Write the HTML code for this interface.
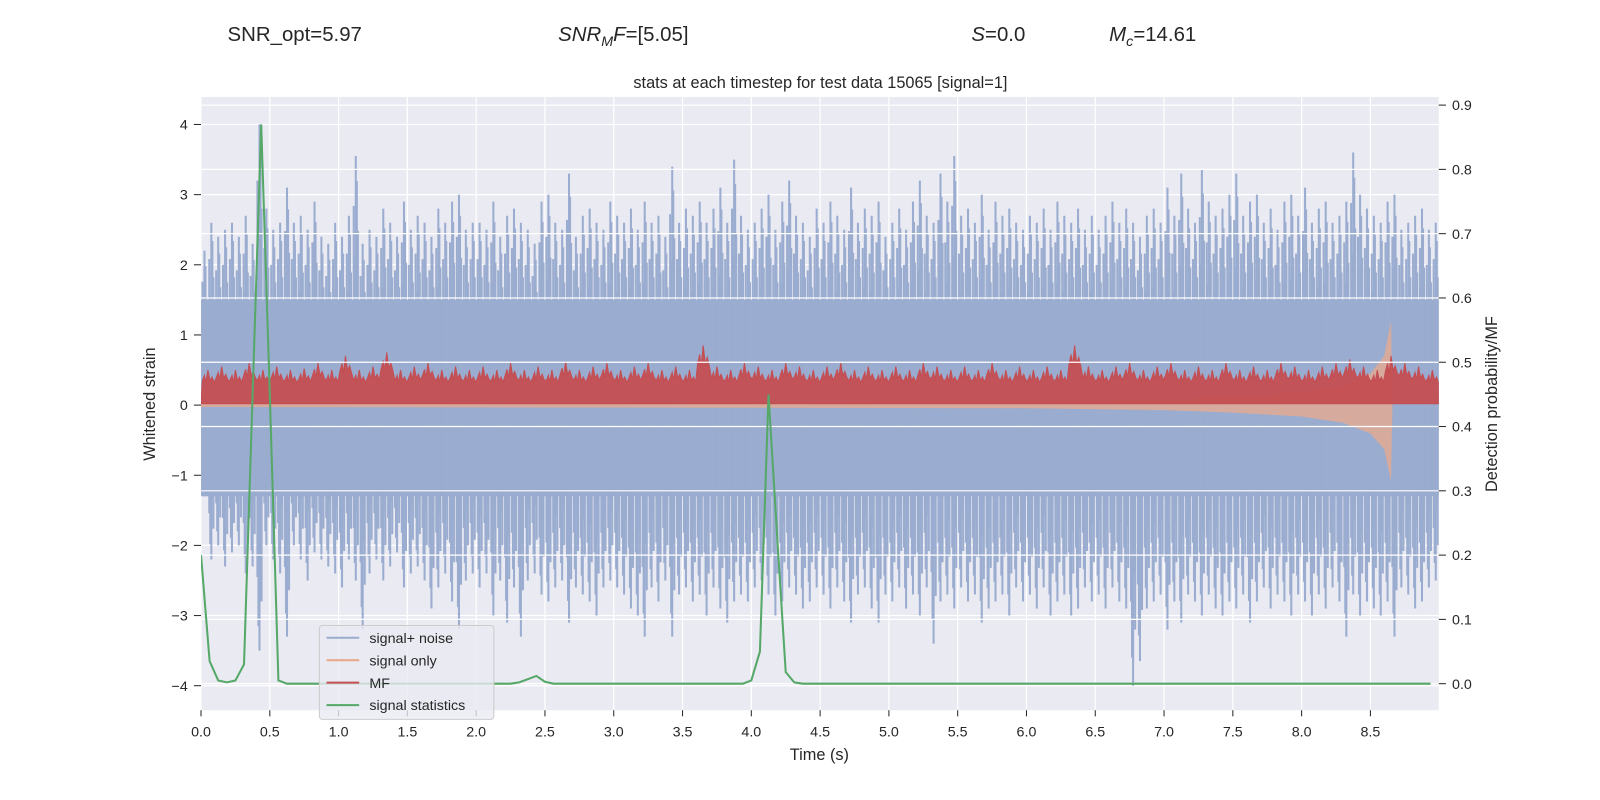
<!DOCTYPE html>
<html><head><meta charset="utf-8"><style>
html,body{margin:0;padding:0;background:#fff;overflow:hidden;width:1600px;height:800px;}
svg{display:block;}
svg text{font-family:"Liberation Sans","DejaVu Sans",sans-serif;fill:#262626;}
</style></head><body>
<svg id="chart" width="1600" height="800" viewBox="0 0 1568 784" xmlns="http://www.w3.org/2000/svg">
<text x="223" y="40" font-size="20">SNR_opt=5.97</text>
<text x="547" y="40" font-size="20"><tspan font-style="italic">SNR</tspan><tspan font-style="italic" font-size="14" dy="5">M</tspan><tspan font-style="italic" dy="-5">F</tspan>=[5.05]</text>
<text x="952" y="40" font-size="20"><tspan font-style="italic">S</tspan>=0.0</text>
<text x="1087" y="40" font-size="20"><tspan font-style="italic">M</tspan><tspan font-style="italic" font-size="14" dy="5">c</tspan><tspan dy="-5">=14.61</tspan></text>
<text x="804" y="86" font-size="16" text-anchor="middle">stats at each timestep for test data 15065 [signal=1]</text>
<rect x="197" y="95" width="1213" height="601" fill="#eaeaf2"/>
<g id="grid"></g>
<g id="marks"></g>
<g id="grid2"></g>
<g id="marks2"></g>
<g id="axes"></g>
<text x="803" y="745" font-size="16" text-anchor="middle">Time (s)</text>
<text transform="translate(152,396) rotate(-90)" font-size="16" text-anchor="middle">Whitened strain</text>
<text transform="translate(1467,396) rotate(-90)" font-size="16" text-anchor="middle">Detection probability/MF</text>
<g>
<rect x="313" y="613" width="171" height="92" rx="3" fill="#eaeaf2" fill-opacity="0.8" stroke="#cccccc"/>
<line x1="320" y1="625" x2="352" y2="625" stroke="#9aaccf" stroke-width="2"/>
<text x="362" y="630" font-size="14">signal+ noise</text>
<line x1="320" y1="647" x2="352" y2="647" stroke="#e9a98c" stroke-width="2"/>
<text x="362" y="652" font-size="14">signal only</text>
<line x1="320" y1="669" x2="352" y2="669" stroke="#c44e52" stroke-width="2"/>
<text x="362" y="674" font-size="14">MF</text>
<line x1="320" y1="691" x2="352" y2="691" stroke="#55a868" stroke-width="2"/>
<text x="362" y="696" font-size="14">signal statistics</text>
</g>
</svg>
<script>
const xTicks=[0,0.5,1,1.5,2,2.5,3,3.5,4,4.5,5,5.5,6,6.5,7,7.5,8,8.5];
const yTicks=[-4,-3,-2,-1,0,1,2,3,4];
const y2Ticks=[0,0.1,0.2,0.3,0.4,0.5,0.6,0.7,0.8,0.9];
const noiseHi=[2.2,2.6,2.4,2.5,2.6,2.4,2.7,2.3,4.0,2.8, 2.5,2.6,3.1,2.6,2.7,2.5,2.9,2.4,2.3,2.6, 2.4,2.7,3.55,2.3,2.5,2.4,2.8,2.6,2.4,2.9, 2.5,2.7,2.6,2.4,2.8,2.6,2.9,3.0,2.5,2.6, 2.6,2.5,2.9,2.4,2.7,2.8,2.6,2.5,2.3,2.9, 3.0,2.6,2.5,3.3,2.4,2.7,2.8,2.6,2.5,2.9, 2.7,2.6,2.8,2.5,2.9,2.6,2.7,2.4,3.4,2.6, 2.8,2.7,2.9,2.6,2.8,3.1,2.6,3.5,2.7,2.5, 2.6,2.8,3.0,2.5,2.9,3.2,2.7,2.6,2.4,2.8, 2.6,2.9,2.7,2.5,3.1,2.6,2.8,2.7,2.9,2.4, 2.6,2.8,2.5,2.9,3.2,2.7,2.6,3.3,2.9,3.55, 2.7,2.8,2.6,3.0,2.5,2.9,2.7,2.8,2.6,2.5, 2.7,2.6,2.8,2.5,2.9,2.7,2.6,2.8,2.5,2.7, 2.5,2.7,2.9,2.6,2.8,2.6,2.4,2.7,2.8,2.6, 3.1,2.7,3.3,2.8,2.6,3.35,2.9,2.7,2.8,3.0, 3.3,2.7,2.9,3.0,2.6,2.8,2.5,2.9,3.0,2.7, 3.1,2.6,2.8,2.9,2.6,2.7,2.9,3.6,3.0,2.8, 2.7,2.6,2.9,3.0,2.5,2.6,2.7,2.8,2.5,2.6];
const noiseLo=[-1.3,-2.2,-2.0,-2.3,-2.1,-2.0,-2.4,-2.3,-3.5,-2.0, -2.2,-2.4,-3.3,-2.0,-2.2,-2.5,-2.1,-2.2,-2.3,-2.4, -2.6,-2.2,-2.5,-3.2,-2.4,-2.2,-2.5,-2.3,-2.1,-2.6, -2.4,-2.3,-2.5,-2.9,-2.6,-2.4,-2.8,-3.2,-2.5,-2.4, -2.6,-2.4,-3.0,-2.5,-3.1,-2.6,-3.3,-2.5,-2.4,-2.7, -2.8,-2.6,-2.5,-3.1,-2.6,-2.7,-2.8,-3.0,-2.6,-2.5, -2.6,-2.7,-2.9,-3.0,-3.3,-2.6,-2.8,-2.5,-3.3,-2.7, -2.6,-2.8,-2.7,-3.0,-2.6,-2.9,-3.1,-2.8,-2.7,-2.8, -2.6,-2.5,-2.7,-3.0,-2.8,-2.6,-2.7,-2.9,-2.8,-2.6, -2.7,-2.9,-2.6,-2.8,-3.1,-2.7,-2.6,-2.9,-3.1,-2.7, -2.8,-2.6,-2.9,-2.7,-3.0,-2.6,-3.4,-2.8,-2.7,-2.9, -2.6,-2.8,-2.7,-3.1,-2.9,-2.8,-2.7,-3.0,-2.6,-2.8, -2.7,-2.9,-2.6,-3.0,-2.8,-2.7,-3.0,-2.9,-2.6,-2.8, -2.7,-2.9,-2.6,-2.8,-2.9,-4.0,-3.65,-2.9,-2.8,-2.7, -3.2,-2.8,-3.1,-2.7,-2.8,-3.0,-2.7,-2.9,-3.0,-2.8, -2.9,-2.7,-3.1,-2.8,-2.6,-2.9,-2.7,-2.8,-3.0,-2.7, -2.8,-3.0,-2.7,-2.9,-2.6,-2.8,-3.3,-2.7,-3.0,-2.8, -2.9,-3.0,-2.8,-3.3,-2.6,-2.7,-2.9,-2.8,-2.6,-2.5];
const noiseCoreHi=1.5, noiseCoreLo=-1.3, noiseDt=0.05;
const mfHi=[0.5,0.55,0.5,0.6,0.5,0.55,0.5,0.52,0.6,0.5, 0.7,0.5,0.55,0.75,0.5,0.55,0.6,0.5,0.55,0.5, 0.55,0.5,0.6,0.5,0.55,0.5,0.62,0.5,0.55,0.6, 0.5,0.55,0.6,0.5,0.55,0.5,0.85,0.55,0.5,0.6, 0.55,0.5,0.6,0.55,0.5,0.55,0.6,0.5,0.55,0.5, 0.55,0.5,0.6,0.55,0.5,0.55,0.5,0.6,0.5,0.55, 0.5,0.55,0.5,0.85,0.55,0.5,0.55,0.6,0.5,0.55, 0.6,0.5,0.55,0.5,0.6,0.5,0.55,0.5,0.6,0.55, 0.5,0.55,0.6,0.65,0.55,0.5,0.7,0.6,0.55,0.5];
const mfLo=0.02, mfDt=0.1;
const sigT=[0,6,7,7.5,8,8.3,8.5,8.6,8.65,8.66];
const sigAmp=[0.03,0.05,0.08,0.12,0.18,0.28,0.45,0.7,1.2,0];
const statT=[0,0.0625,0.125,0.1875,0.25,0.3125,0.375,0.4375,0.5,0.5625,0.625,2.25,2.3125,2.375,2.4375,2.5,2.5625,3.9375,4.0,4.0625,4.125,4.1875,4.25,4.3125,4.375,8.9375];
const statP=[0.2,0.035,0.005,0.002,0.005,0.03,0.45,0.87,0.45,0.005,0,0,0.002,0.007,0.012,0.003,0,0,0.005,0.05,0.45,0.23,0.018,0.002,0,0];

const X=t=>197+t*(1343-197)/8.5;
const Y=v=>397-v*(397-122)/4;
const Y2=p=>670-p*(670-103)/0.9;
const NS='http://www.w3.org/2000/svg';
function mk(tag,attrs,parent){const e=document.createElementNS(NS,tag);for(const k in attrs)e.setAttribute(k,attrs[k]);parent.appendChild(e);return e;}
const grid=document.getElementById('grid'),grid2=document.getElementById('grid2'),marks=document.getElementById('marks'),marks2=document.getElementById('marks2'),axes=document.getElementById('axes');
const clip=mk('clipPath',{id:'pc'},document.getElementById('chart'));mk('rect',{x:197,y:95,width:1213,height:601},clip);
marks.setAttribute('clip-path','url(#pc)');
marks2.setAttribute('clip-path','url(#pc)');
xTicks.forEach(t=>{
 const l=mk('line',{x1:X(t),x2:X(t),y1:95,y2:696,stroke:'#fff','stroke-width':1.2},grid);
 
 
 const tk=mk('line',{x1:X(t),x2:X(t),y1:696,y2:702,stroke:'#262626','stroke-width':1},axes);
 
 
 const tx=mk('text',{x:X(t),y:722,'font-size':14,'text-anchor':'middle'},axes);tx.textContent=t.toFixed(1);
 
 
});
yTicks.forEach(v=>{
 const l=mk('line',{x1:197,x2:1410,y1:Y(v),y2:Y(v),stroke:'#fff','stroke-width':1.2},grid);
 
 
 const tk=mk('line',{x1:190,x2:197,y1:Y(v),y2:Y(v),stroke:'#262626'},axes);
 
 
 const tx=mk('text',{x:184,y:Y(v)+5,'font-size':14,'text-anchor':'end'},axes);tx.textContent=v<0?'\u2212'+(-v):String(v);
 
 
});
y2Ticks.forEach(p=>{
 const l=mk('line',{x1:197,x2:1410,y1:Y2(p),y2:Y2(p),stroke:'#fff','stroke-width':1.2},grid2);
 
 
 const tk=mk('line',{x1:1410,x2:1417,y1:Y2(p),y2:Y2(p),stroke:'#262626'},axes);
 
 
 const tx=mk('text',{x:1423,y:Y2(p)+5,'font-size':14},axes);tx.textContent=p.toFixed(1);
 
 
});
// noise
const tEnd=noiseHi.length*noiseDt;
const core=mk('rect',{x:X(0),y:Y(noiseCoreHi),width:X(tEnd)-X(0),height:Y(noiseCoreLo)-Y(noiseCoreHi),fill:'#9aaccf'},marks);


noiseHi.forEach((h,i)=>{
 const t=i*noiseDt, lo=noiseLo[i];
 const cx=X(t+noiseDt/2), w=X(noiseDt)-X(0);
 [[0,1],[-0.3,0.8],[0.3,0.7],[-0.15,0.6],[0.15,0.9]].forEach(([o,f])=>{
  const x=cx+o*w;
  const a=mk('line',{x1:x,x2:x,y1:Y(0),y2:Y(h*f),stroke:'#9aaccf','stroke-width':2},marks);
  
  
  const b=mk('line',{x1:x,x2:x,y1:Y(0),y2:Y(lo*(f===1?1:(1.5-f))),stroke:'#9aaccf','stroke-width':2},marks);
  
  
 });
});
// signal only
let up=[],dn=[];
for(let i=0;i<sigT.length;i++){up.push(X(sigT[i])+','+Y(sigAmp[i]));dn.unshift(X(sigT[i])+','+Y(-sigAmp[i]*0.9));}
const sg=mk('polygon',{points:up.concat(dn).join(' '),fill:'#e9a98c','fill-opacity':0.75},marks);


// MF
let mp=[X(0)+','+Y(mfLo)];
mfHi.forEach((h,i)=>{const t=i*mfDt;
 mp.push(X(t+mfDt*0.1)+','+Y(h*0.7));mp.push(X(t+mfDt*0.25)+','+Y(h*0.85));mp.push(X(t+mfDt*0.35)+','+Y(h*0.65));
 mp.push(X(t+mfDt*0.5)+','+Y(h));mp.push(X(t+mfDt*0.65)+','+Y(h*0.7));mp.push(X(t+mfDt*0.8)+','+Y(h*0.8));mp.push(X(t+mfDt*0.95)+','+Y(h*0.65));});
mp.push(X(mfHi.length*mfDt)+','+Y(mfLo));
const mf=mk('polygon',{points:mp.join(' '),fill:'#c44e52','fill-opacity':0.95,stroke:'#c44e52','stroke-width':1},marks);


// stats
const sp=statT.map((t,i)=>X(t)+','+Y2(statP[i])).join(' ');
const st=mk('polyline',{points:sp,fill:'none',stroke:'#55a868','stroke-width':2},marks2);


</script>
</body></html>
